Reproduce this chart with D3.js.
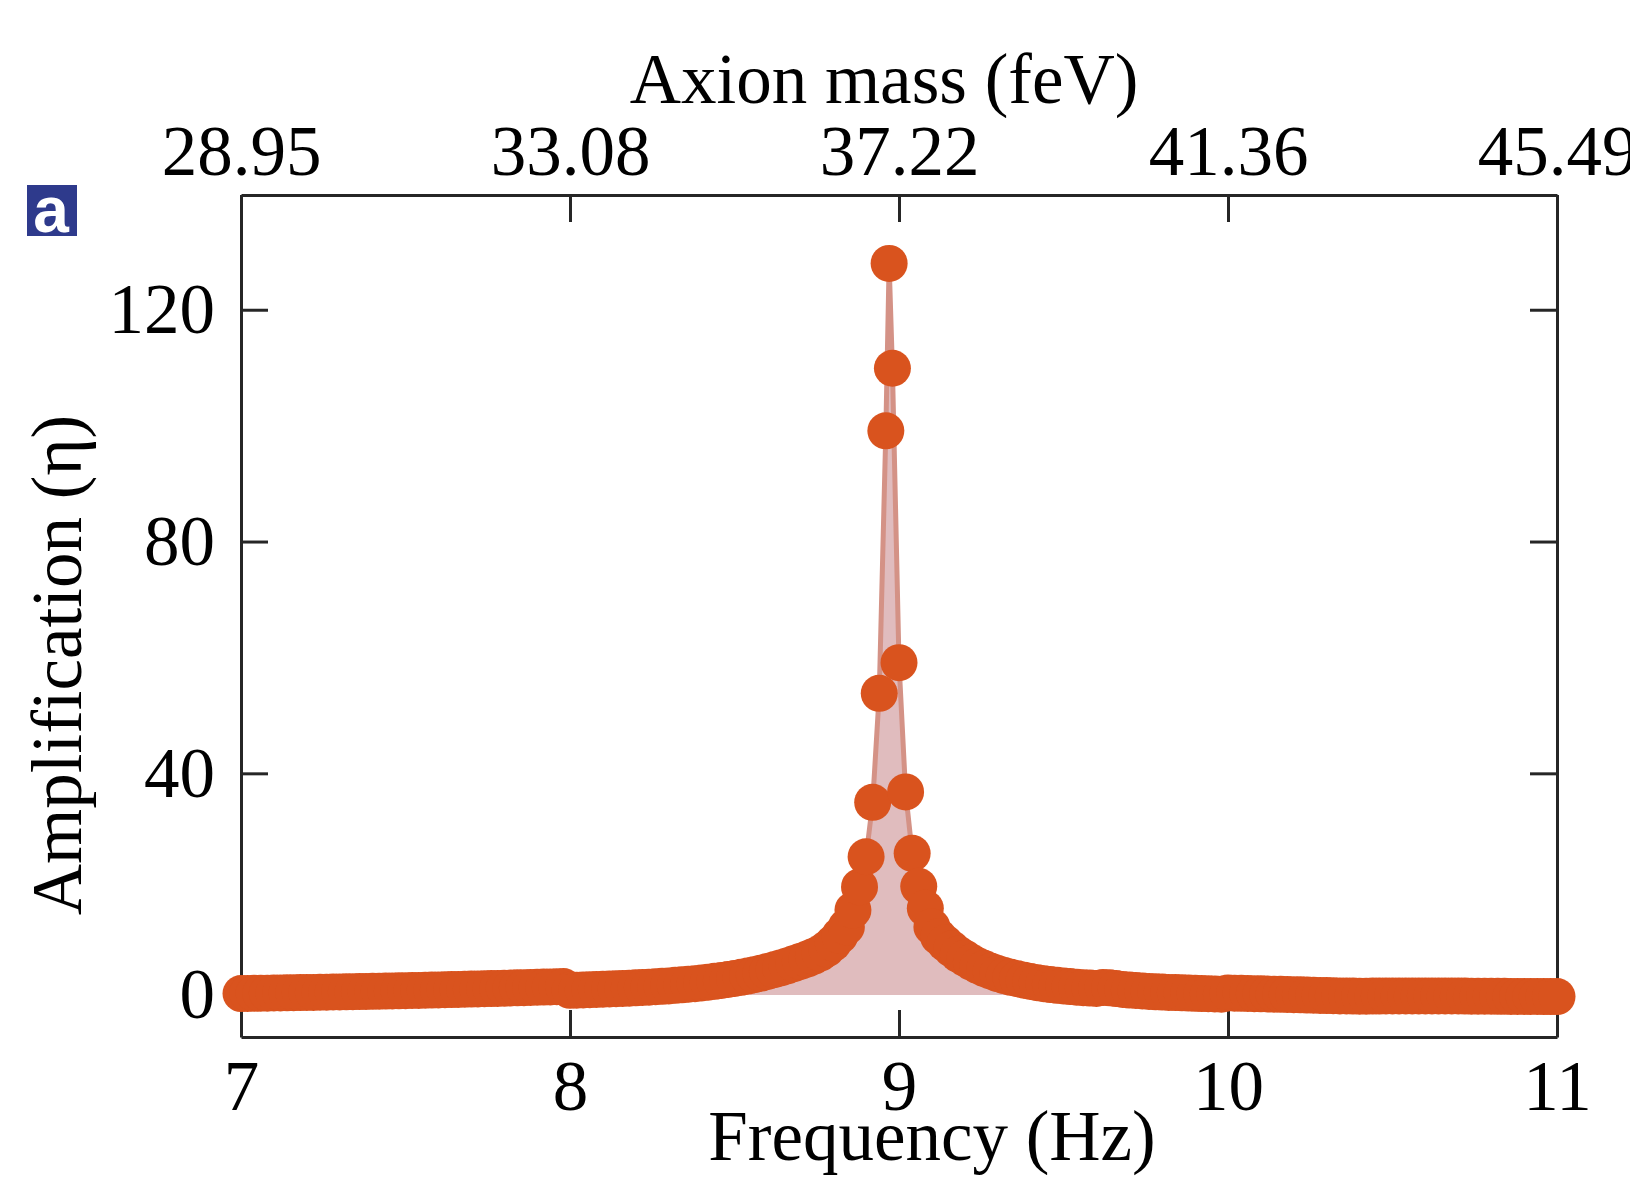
<!DOCTYPE html>
<html>
<head>
<meta charset="utf-8">
<script src="https://cdn.jsdelivr.net/npm/d3@7"></script>
<style>
  html, body { margin: 0; padding: 0; background: #ffffff; }
  svg { display: block; }
</style>
</head>
<body>
<svg id="chart" width="1630" height="1177"></svg>
<script>
// ---------------- DATA ----------------
const frequencyHz = [
  7.00, 7.02, 7.04, 7.06, 7.08, 7.10, 7.12, 7.14, 7.16, 7.18,
  7.20, 7.22, 7.24, 7.26, 7.28, 7.30, 7.32, 7.34, 7.36, 7.38,
  7.40, 7.42, 7.44, 7.46, 7.48, 7.50, 7.52, 7.54, 7.56, 7.58,
  7.60, 7.62, 7.64, 7.66, 7.68, 7.70, 7.72, 7.74, 7.76, 7.78,
  7.80, 7.82, 7.84, 7.86, 7.88, 7.90, 7.92, 7.94, 7.96, 7.98,
  8.00, 8.02, 8.04, 8.06, 8.08, 8.10, 8.12, 8.14, 8.16, 8.18,
  8.20, 8.22, 8.24, 8.26, 8.28, 8.30, 8.32, 8.34, 8.36, 8.38,
  8.40, 8.42, 8.44, 8.46, 8.48, 8.50, 8.52, 8.54, 8.56, 8.58,
  8.60, 8.62, 8.64, 8.66, 8.68, 8.70, 8.72, 8.74, 8.76, 8.78,
  8.80, 8.82, 8.84, 8.86, 8.88, 8.90, 8.92, 8.94, 8.96, 8.97,
  8.98, 9.00, 9.02, 9.04, 9.06, 9.08, 9.10, 9.12, 9.14, 9.16,
  9.18, 9.20, 9.22, 9.24, 9.26, 9.28, 9.30, 9.32, 9.34, 9.36,
  9.38, 9.40, 9.42, 9.44, 9.46, 9.48, 9.50, 9.52, 9.54, 9.56,
  9.58, 9.60, 9.62, 9.64, 9.66, 9.68, 9.70, 9.72, 9.74, 9.76,
  9.78, 9.80, 9.82, 9.84, 9.86, 9.88, 9.90, 9.92, 9.94, 9.96,
  9.98, 10.00, 10.02, 10.04, 10.06, 10.08, 10.10, 10.12, 10.14, 10.16,
  10.18, 10.20, 10.22, 10.24, 10.26, 10.28, 10.30, 10.32, 10.34, 10.36,
  10.38, 10.40, 10.42, 10.44, 10.46, 10.48, 10.50, 10.52, 10.54, 10.56,
  10.58, 10.60, 10.62, 10.64, 10.66, 10.68, 10.70, 10.72, 10.74, 10.76,
  10.78, 10.80, 10.82, 10.84, 10.86, 10.88, 10.90, 10.92, 10.94, 10.96,
  10.98, 11.00
];
const amplification = [
  2.00, 2.02, 2.04, 2.05, 2.07, 2.09, 2.11, 2.12, 2.14, 2.16,
  2.18, 2.20, 2.22, 2.24, 2.26, 2.28, 2.30, 2.32, 2.34, 2.36,
  2.38, 2.40, 2.42, 2.44, 2.47, 2.49, 2.52, 2.54, 2.57, 2.60,
  2.62, 2.65, 2.68, 2.71, 2.74, 2.77, 2.80, 2.83, 2.86, 2.89,
  2.92, 2.95, 2.98, 3.01, 3.05, 3.08, 3.11, 3.14, 3.17, 3.20,
  2.55, 2.58, 2.62, 2.66, 2.70, 2.74, 2.78, 2.83, 2.88, 2.93,
  2.98, 3.04, 3.10, 3.17, 3.24, 3.32, 3.41, 3.50, 3.60, 3.71,
  3.83, 3.96, 4.10, 4.25, 4.42, 4.60, 4.80, 5.02, 5.26, 5.52,
  5.80, 6.10, 6.42, 6.77, 7.15, 7.55, 7.95, 8.40, 8.95, 9.70,
  10.70, 12.00, 13.50, 16.40, 20.40, 25.60, 35.00, 53.80, 99.10, 128.00,
  109.90, 59.10, 36.80, 26.20, 20.50, 16.70, 13.50, 11.80, 10.70, 9.70,
  8.80, 8.10, 7.40, 6.80, 6.30, 5.85, 5.45, 5.10, 4.80, 4.55,
  4.30, 4.08, 3.88, 3.70, 3.55, 3.42, 3.30, 3.20, 3.10, 3.02,
  2.94, 2.87, 3.05, 2.98, 2.85, 2.70, 2.60, 2.52, 2.44, 2.37,
  2.30, 2.25, 2.20, 2.16, 2.12, 2.08, 2.04, 2.00, 1.96, 1.92,
  1.88, 2.10, 2.07, 2.04, 2.01, 1.98, 1.95, 1.92, 1.89, 1.86,
  1.83, 1.80, 1.77, 1.74, 1.71, 1.68, 1.65, 1.62, 1.59, 1.57,
  1.56, 1.55, 1.55, 1.56, 1.56, 1.57, 1.57, 1.58, 1.58, 1.58,
  1.59, 1.59, 1.59, 1.58, 1.58, 1.57, 1.57, 1.56, 1.55, 1.54,
  1.54, 1.53, 1.52, 1.52, 1.51, 1.50, 1.50, 1.49, 1.49, 1.48,
  1.48, 1.47
];
const freqTicks = [7, 8, 9, 10, 11];
const massTickLabels = ["28.95", "33.08", "37.22", "41.36", "45.49"];
const ampTicks = [0, 40, 80, 120];
const areaBaseValue = 1.75;
const xDomain = [7, 11];
const yDomain = [-5.5, 139.8];

// ---------------- LAYOUT ----------------
const plot = { left: 241, right: 1557, top: 195, bottom: 1037 };
const FONT = "'Liberation Serif', 'Times New Roman', serif";
const FS = 71;
const AXIS_COLOR = "#262626";
const TICK = 27;

const svg = d3.select("#chart");
const x = d3.scaleLinear().domain(xDomain).range([plot.left, plot.right]);
const y = d3.scaleLinear().domain(yDomain).range([plot.bottom, plot.top]);

const data = frequencyHz.map((f, i) => ({ f, v: amplification[i] }));

// ---------------- AXES ----------------
function styleAxis(g) {
  g.selectAll("path.domain").attr("stroke", AXIS_COLOR).attr("stroke-width", 3);
  g.selectAll(".tick line").attr("stroke", AXIS_COLOR).attr("stroke-width", 3);
  g.selectAll(".tick text")
    .attr("fill", "#000")
    .style("font-family", FONT)
    .style("font-size", FS + "px");
}

// bottom
const gBottom = svg.append("g")
  .attr("transform", `translate(0,${plot.bottom})`)
  .call(d3.axisBottom(x).tickValues(freqTicks).tickFormat(d3.format("d"))
    .tickSize(-TICK).tickSizeOuter(0).tickPadding(23));
styleAxis(gBottom);

// top
const gTop = svg.append("g")
  .attr("transform", `translate(0,${plot.top})`)
  .call(d3.axisTop(x).tickValues(freqTicks)
    .tickFormat((d, i) => massTickLabels[i])
    .tickSize(-TICK).tickSizeOuter(0).tickPadding(20));
styleAxis(gTop);

// left
const gLeft = svg.append("g")
  .attr("transform", `translate(${plot.left},0)`)
  .call(d3.axisLeft(y).tickValues(ampTicks).tickFormat(d3.format("d"))
    .tickSize(-TICK).tickSizeOuter(0).tickPadding(26));
styleAxis(gLeft);
gLeft.selectAll(".tick text").filter(d => d === 0).attr("y", -10);

// right
const gRight = svg.append("g")
  .attr("transform", `translate(${plot.right},0)`)
  .call(d3.axisRight(y).tickValues(ampTicks).tickFormat("")
    .tickSize(-TICK).tickSizeOuter(0));
styleAxis(gRight);

// ---------------- DATA MARKS ----------------
const area = d3.area()
  .x(d => x(d.f))
  .y0(y(areaBaseValue))
  .y1(d => y(d.v));
svg.append("path")
  .datum(data)
  .attr("d", area)
  .attr("fill", "#e0bcbe");

const line = d3.line()
  .x(d => x(d.f))
  .y(d => y(d.v));
svg.append("path")
  .datum(data)
  .attr("d", line)
  .attr("fill", "none")
  .attr("stroke", "#d49286")
  .attr("stroke-width", 5)
  .attr("stroke-linejoin", "round");

svg.append("g")
  .selectAll("circle")
  .data(data)
  .join("circle")
  .attr("cx", d => x(d.f))
  .attr("cy", d => y(d.v))
  .attr("r", 18.5)
  .attr("fill", "#d9531e");

// ---------------- TITLES ----------------
svg.append("text")
  .attr("x", 884).attr("y", 103)
  .attr("text-anchor", "middle")
  .style("font-family", FONT).style("font-size", FS + "px")
  .text("Axion mass (feV)");

svg.append("text")
  .attr("x", 932).attr("y", 1160)
  .attr("text-anchor", "middle")
  .style("font-family", FONT).style("font-size", FS + "px")
  .text("Frequency (Hz)");

svg.append("text")
  .attr("transform", "translate(81,665) rotate(-90)")
  .attr("text-anchor", "middle")
  .style("font-family", FONT).style("font-size", FS + "px")
  .text("Amplification (η)");

// panel badge
svg.append("rect")
  .attr("x", 27).attr("y", 185).attr("width", 50).attr("height", 51)
  .attr("fill", "#2e3a8c");
svg.append("text")
  .attr("x", 51).attr("y", 232)
  .attr("text-anchor", "middle")
  .attr("fill", "#ffffff")
  .style("font-family", "'Liberation Sans', Arial, sans-serif")
  .style("font-weight", "bold")
  .style("font-size", "64px")
  .text("a");
</script>
</body>
</html>
